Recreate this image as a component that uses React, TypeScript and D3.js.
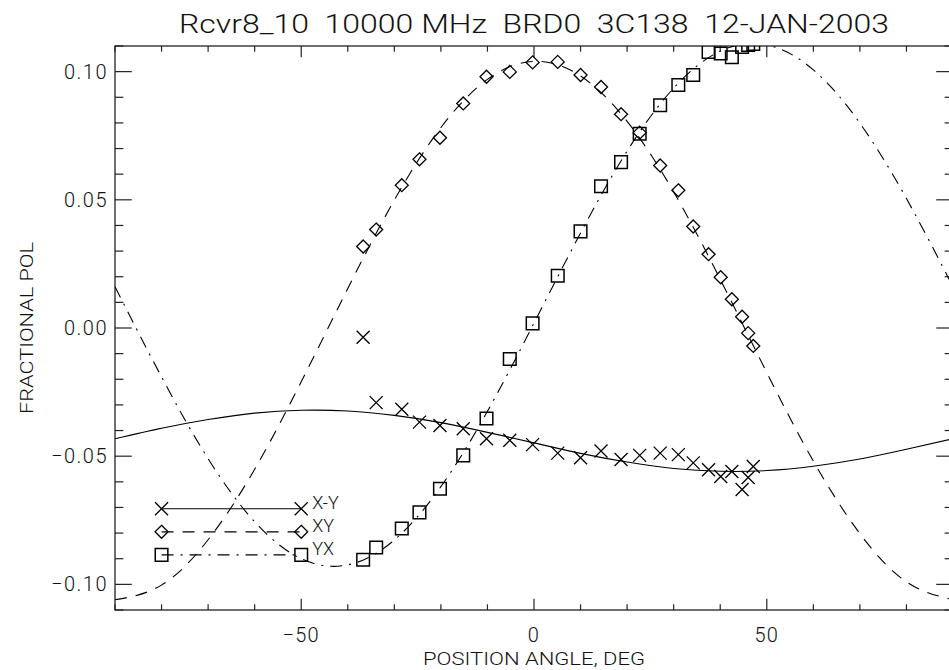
import * as d3 from 'd3';

// position angles of the 23 measurements (deg)
const paDeg = [-36.7, -33.9, -28.4, -24.6, -20.2, -15.2, -10.2, -5.2, -0.3, 5.1, 10.0, 14.4, 18.7, 22.7, 27.1, 31.0, 34.2, 37.5, 40.1, 42.5, 44.7, 46.0, 47.1];

// measured fractional polarisation
const polXmY = [-0.0036, -0.0291, -0.0317, -0.0367, -0.0380, -0.0393, -0.0432, -0.0438, -0.0455, -0.0488, -0.0506, -0.0480, -0.0513, -0.0497, -0.0488, -0.0494, -0.0526, -0.0553, -0.0579, -0.0560, -0.0630, -0.0583, -0.0540];
const polXY = [0.0318, 0.0384, 0.0557, 0.0658, 0.0742, 0.0876, 0.0980, 0.0999, 0.1036, 0.1038, 0.0987, 0.0940, 0.0834, 0.0762, 0.0634, 0.0537, 0.0396, 0.0288, 0.0198, 0.0112, 0.0044, -0.0020, -0.0070];
const polYX = [-0.0904, -0.0856, -0.0782, -0.0719, -0.0627, -0.0497, -0.0353, -0.0121, 0.0018, 0.0204, 0.0377, 0.0553, 0.0647, 0.0758, 0.0869, 0.0948, 0.0987, 0.1077, 0.1071, 0.1056, 0.1096, 0.1104, 0.1108];

// fitted curves, read every 10 deg
const fitPa = [-90, -80, -70, -60, -50, -40, -30, -20, -10, 0, 10, 20, 30, 40, 50, 60, 70, 80, 90];
const fitXmY = [-0.0432, -0.0391, -0.0357, -0.0332, -0.0321, -0.0324, -0.0341, -0.0369, -0.0407, -0.0448, -0.0489, -0.0523, -0.0548, -0.0559, -0.0556, -0.0539, -0.0511, -0.0473, -0.0432];
const fitXY = [-0.1060, -0.1003, -0.0826, -0.0551, -0.0210, 0.0154, 0.0499, 0.0782, 0.0970, 0.1040, 0.0983, 0.0806, 0.0531, 0.0190, -0.0174, -0.0519, -0.0802, -0.0990, -0.1060];
const fitYX = [0.0161, -0.0191, -0.0510, -0.0756, -0.0900, -0.0924, -0.0827, -0.0619, -0.0325, 0.0019, 0.0371, 0.0690, 0.0936, 0.1080, 0.1104, 0.1007, 0.0799, 0.0505, 0.0161];

const xMajorTicks = [-50, 0, 50];
const yMajorTicks = [-0.10, -0.05, 0.0, 0.05, 0.10];

const legendNames = ['X-Y', 'XY', 'YX'];
const legendY = [-0.0705, -0.0795, -0.0885];
const legendPa = [-80, -50];

const title = 'Rcvr8_10  10000 MHz  BRD0  3C138  12-JAN-2003';

const FONT = "Roboto, 'DejaVu Sans', sans-serif";

const cross = 'M-6.5,-6.5L6.5,6.5M-6.5,6.5L6.5,-6.5';
const diamond = 'M0,-6.5L6.5,0L0,6.5L-6.5,0Z';
const square = 'M-6.3,-6.3h12.6v12.6h-12.6Z';
const symbols = [cross, diamond, square];
const dashes = ['none', '12,9', '12,7,2,7'];

export default function App() {
  const left = 115, right = 953, top = 46, bottom = 610;
  const x = d3.scaleLinear().domain([-90, 90]).range([left, right]);
  const y = d3.scaleLinear().domain([-0.11, 0.11]).range([bottom, top]);

  const line = d3.line<number>()
    .x((_, i) => x(fitPa[i]))
    .y(d => y(d))
    .curve(d3.curveNatural);

  const xMinor = x.ticks(18);
  const yMinor = y.ticks(22);
  const fmtX = d3.format('d');
  const fmtY = d3.format('.2f');

  const xTickLen = 0.02 * (bottom - top);
  const yTickLen = 0.02 * (right - left);

  const series = [polXmY, polXY, polYX];
  const fits = [fitXmY, fitXY, fitYX];

  return (
    <svg width={949} height={670} style={{ position: 'absolute', left: 0, top: 0, background: '#fff' }}
      fontFamily={FONT} fontWeight={300}>
      <defs>
        <clipPath id="plotArea">
          <rect x={left} y={top} width={right - left} height={bottom - top} />
        </clipPath>
      </defs>

      <text x={(left + right) / 2} y={33} textAnchor="middle" fontSize={25} fill="#111"
        textLength={710} lengthAdjust="spacingAndGlyphs" style={{ whiteSpace: 'pre' }}>
        {title}
      </text>

      {/* frame */}
      <rect x={left} y={top} width={right - left} height={bottom - top} fill="none" stroke="#222" strokeWidth={1.3} />

      {/* x ticks, bottom and top */}
      {xMinor.map(t => (
        <g key={'xm' + t} stroke="#222" strokeWidth={1.2}>
          <line x1={x(t)} x2={x(t)} y1={bottom} y2={bottom - (xMajorTicks.includes(t) ? xTickLen : xTickLen / 2)} />
          <line x1={x(t)} x2={x(t)} y1={top} y2={top + (xMajorTicks.includes(t) ? xTickLen : xTickLen / 2)} />
        </g>
      ))}
      {/* y ticks, left and right */}
      {yMinor.map(t => {
        const major = yMajorTicks.some(v => Math.abs(v - t) < 1e-9);
        const len = major ? yTickLen : yTickLen / 2;
        return (
          <g key={'ym' + t} stroke="#222" strokeWidth={1.2}>
            <line x1={left} x2={left + len} y1={y(t)} y2={y(t)} />
            <line x1={right} x2={right - len} y1={y(t)} y2={y(t)} />
          </g>
        );
      })}

      {xMajorTicks.map(t => (
        <text key={'xl' + t} x={x(t)} y={642} textAnchor="middle" fontSize={20} letterSpacing={1.2} fill="#111">{fmtX(t)}</text>
      ))}
      {yMajorTicks.map(t => (
        <text key={'yl' + t} x={108} y={y(t) + 7} textAnchor="end" fontSize={20} letterSpacing={1.5} fill="#111">{fmtY(t)}</text>
      ))}

      <text x={(left + right) / 2} y={665} textAnchor="middle" fontSize={18} fill="#111"
        textLength={222} lengthAdjust="spacingAndGlyphs">POSITION ANGLE, DEG</text>
      <text transform={`translate(33,${(top + bottom) / 2}) rotate(-90)`} textAnchor="middle" fontSize={18} fill="#111"
        textLength={172} lengthAdjust="spacingAndGlyphs">FRACTIONAL POL</text>

      <g clipPath="url(#plotArea)" fill="none" stroke="#000" strokeWidth={1.1}>
        {fits.map((f, k) => (
          <path key={'fit' + k} d={line(f) || ''} strokeDasharray={dashes[k]} />
        ))}
        {series.map((s, k) => s.map((v, i) => (
          <path key={`p${k}-${i}`} d={symbols[k]} transform={`translate(${x(paDeg[i])},${y(v)})`}
            strokeWidth={k === 2 ? 1.5 : 1.3} />
        )))}
      </g>

      {/* legend */}
      <g fill="none" stroke="#000" strokeWidth={1.2}>
        {legendNames.map((name, k) => (
          <g key={'lg' + name}>
            <line x1={x(legendPa[0])} x2={x(legendPa[1])} y1={y(legendY[k])} y2={y(legendY[k])} strokeDasharray={dashes[k]} />
            {legendPa.map(p => (
              <path key={p} d={symbols[k]} transform={`translate(${x(p)},${y(legendY[k])})`} strokeWidth={k === 2 ? 1.5 : 1.3} />
            ))}
            <text x={x(legendPa[1]) + 11} y={y(legendY[k])} fontSize={18} fill="#111" stroke="none">{name}</text>
          </g>
        ))}
      </g>
    </svg>
  );
}
